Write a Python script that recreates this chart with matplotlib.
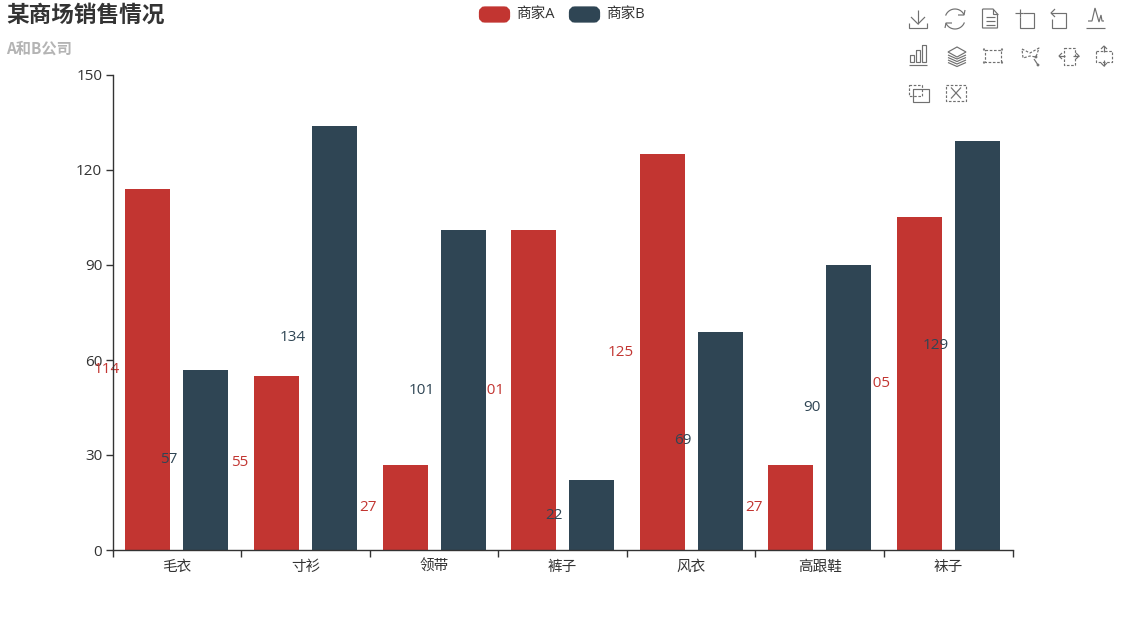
import matplotlib
matplotlib.use("Agg")
import matplotlib.pyplot as plt
from matplotlib.patches import FancyBboxPatch, Circle, Polygon
import numpy as np

FONTS = ["Open Sans", "Noto Sans CJK SC", "DejaVu Sans"]
plt.rcParams["font.family"] = FONTS

categories = ["毛衣", "寸衫", "领带", "裤子", "风衣", "高跟鞋", "袜子"]
seller_a = [114, 55, 27, 101, 125, 27, 105]
seller_b = [57, 134, 101, 22, 69, 90, 129]
y_ticks = [0, 30, 60, 90, 120, 150]

RED = "#c23531"
NAVY = "#2f4554"
TEXT = "#333333"
ICON = "#707070"

fig = plt.figure(figsize=(11.25, 6.25), dpi=100)
ax = fig.add_axes([112.6 / 1125, 75 / 625, 900 / 1125, 475 / 625])

x = np.arange(len(categories))
bar_w = 0.35
off = 0.2255

# bars and labels, B bars sit over the A labels like in the original
ax.bar(x - off, seller_a, bar_w, color=RED, zorder=2)
for xi, v in zip(x, seller_a):
    ax.annotate(str(v), (xi - off - bar_w / 2, v / 2), xytext=(-4.3, 0), textcoords="offset points",
                ha="right", va="center", color=RED, fontsize=11, zorder=3, annotation_clip=False)
ax.bar(x + off, seller_b, bar_w, color=NAVY, zorder=4)
for xi, v in zip(x, seller_b):
    ax.annotate(str(v), (xi + off - bar_w / 2, v / 2), xytext=(-4.3, 0), textcoords="offset points",
                ha="right", va="center", color=NAVY, fontsize=11, zorder=5, annotation_clip=False)

ax.set_xlim(-0.5, len(categories) - 0.5)
ax.set_ylim(0, 150)
ax.set_yticks(y_ticks)
ax.set_xticks(np.arange(len(categories) + 1) - 0.5)
ax.set_xticklabels([])
ax.set_xticks(x, minor=True)
ax.set_xticklabels(categories, minor=True, fontsize=10.5, color=TEXT)
ax.tick_params(axis="x", which="minor", length=0, pad=7)
ax.tick_params(axis="x", which="major", length=5, width=1, color=TEXT)
ax.tick_params(axis="y", length=5, width=1, color=TEXT, labelcolor=TEXT, labelsize=11, pad=2.5)
for side in ["top", "right"]:
    ax.spines[side].set_visible(False)
for side in ["left", "bottom"]:
    ax.spines[side].set_color(TEXT)
    ax.spines[side].set_linewidth(1)
    ax.spines[side].set_zorder(6)

# overlay in pixel coordinates for title, legend and toolbox
ov = fig.add_axes([0, 0, 1, 1], facecolor="none")
ov.set_xlim(0, 1125)
ov.set_ylim(625, 0)
ov.axis("off")

ov.text(6, 15, "某商场销售情况", fontsize=16.3, fontweight="bold", color=TEXT, va="center", ha="left",
        family="Noto Sans CJK SC")
ov.text(6, 48.5, "A和B公司", fontsize=11, fontweight="bold", color="#b4b4b4", va="center", ha="left",
        family="Noto Sans CJK SC")

for left, color, name in [(479, RED, "商家A"), (569, NAVY, "商家B")]:
    ov.add_patch(FancyBboxPatch((left + 3, 9.5), 25, 10, boxstyle="round,pad=0,rounding_size=3",
                                mutation_aspect=1, fc=color, ec=color, lw=4.5))
    ov.text(left + 37.5, 14, name, fontsize=10.5, color=TEXT, va="center", ha="left")


def pl(cx, cy, pts, ls="-", closed=False):
    pts = list(pts)
    if closed:
        pts.append(pts[0])
    ov.plot([cx + p[0] for p in pts], [cy + p[1] for p in pts], color=ICON, lw=0.85, ls=ls,
            solid_joinstyle="miter", solid_capstyle="butt")


DASH = (0, (2.2, 1.4))


def box(cx, cy, w, h, ls="-"):
    pl(cx, cy, [(-w / 2, -h / 2), (w / 2, -h / 2), (w / 2, h / 2), (-w / 2, h / 2)], ls=ls, closed=True)


def save_icon(c, r):
    pl(c, r, [(0, -9), (0, 5)])
    pl(c, r, [(-7, -2), (0, 5), (7, -2)])
    pl(c, r, [(-9, 4), (-9, 9), (9, 9), (9, 4)])


def refresh_icon(c, r):
    t = np.linspace(np.radians(200), np.radians(335), 20)
    pl(c, r, np.c_[10 * np.cos(t), 10 * np.sin(t)])
    t = np.linspace(np.radians(20), np.radians(155), 20)
    pl(c, r, np.c_[10 * np.cos(t), 10 * np.sin(t)])
    pl(c, r, [(3, -4), (9, -4), (10, -9)])
    pl(c, r, [(-3, 4), (-9, 4), (-10, 9)])


def doc_icon(c, r):
    pl(c, r, [(-7.5, -10), (3, -10), (7.5, -5), (7.5, 9), (-7.5, 9)], closed=True)
    pl(c, r, [(3, -10), (3, -5), (7.5, -5)])
    for dy in [-2, 2, 5.5]:
        pl(c, r, [(-4.5, dy), (4.5, dy)])


def zoom_icon(c, r):
    pl(c, r, [(-2, -6), (9, -6), (9, 9), (-5, 9), (-5, -2)])
    pl(c, r, [(-10, -6), (-2, -6)])
    pl(c, r, [(-5, -10), (-5, -2)])


def back_icon(c, r):
    pl(c, r, [(-9, -6), (6, -6), (6, 9), (-8, 9), (-8, 0)])
    pl(c, r, [(-5, -10), (-9, -6), (-5, -2)])


def line_icon(c, r):
    pl(c, r, [(-8, 2), (-4, 2), (-1, -11), (3, 3), (5, -4), (6, 2), (8, 2)])
    pl(c, r, [(-10, 9), (9, 9)])


def bar_icon(c, r):
    for dx, h in [(-6, 7), (0, 12), (6, 17)]:
        box(c + dx, r + 6 - h / 2, 3.5, h)
    pl(c, r, [(-9, 9), (9, 9)])


def stack_icon(c, r):
    ov.add_patch(Polygon([(c - 9, r - 4), (c, r - 9), (c + 9, r - 4), (c, r + 1)], closed=True,
                         fc="none", ec=ICON, lw=0.85))
    for dy in [0, 2.5, 5, 7.5]:
        pl(c, r, [(-9, dy - 1), (0, dy + 3), (9, dy - 1)])


def rect_select(c, r):
    box(c, r, 16, 12, ls=DASH)
    for sx, sy in [(-1, -1), (1, -1), (1, 1), (-1, 1)]:
        ov.add_patch(Circle((c + sx * 9, r + sy * 6.5), 0.8, fc=ICON, ec=ICON, lw=0.4))


def poly_select(c, r):
    pl(c, r, [(-9, -7), (-1, -3), (8, -8), (5, 1), (-1, 0), (-8, 2)], ls=DASH, closed=True)
    pl(c, r, [(3, 3), (7, 9)])
    ov.add_patch(Circle((c + 7, r + 9), 1.1, fc=ICON, ec=ICON, lw=0.4))
    ov.add_patch(Circle((c + 5, r + 1), 1.1, fc=ICON, ec=ICON, lw=0.4))


def lr_select(c, r):
    box(c, r, 11, 17, ls=DASH)
    pl(c, r, [(-7, -3), (-10, 0), (-7, 3)])
    pl(c, r, [(7, -3), (10, 0), (7, 3)])
    pl(c, r, [(-10, 0), (-4, 0)])
    pl(c, r, [(10, 0), (4, 0)])


def ud_select(c, r):
    box(c, r, 16, 11, ls=DASH)
    pl(c, r, [(-3, -7), (0, -10), (3, -7)])
    pl(c, r, [(-3, 7), (0, 10), (3, 7)])
    pl(c, r, [(0, -10), (0, -4)])
    pl(c, r, [(0, 10), (0, 4)])


def keep_icon(c, r):
    box(c - 2.5, r - 3, 13, 11, ls=DASH)
    pl(c, r, [(-5, -4), (11, -4), (11, 9), (-5, 9)], closed=True)


def clear_icon(c, r):
    box(c, r, 20, 16, ls=DASH)
    pl(c, r, [(-5, -5.5), (5, 5.5)])
    pl(c, r, [(5, -5.5), (-5, 5.5)])


rows = [
    (19, [(918, save_icon), (955, refresh_icon), (990, doc_icon), (1025, zoom_icon), (1060, back_icon), (1096, line_icon)]),
    (56, [(918, bar_icon), (957, stack_icon), (993, rect_select), (1031, poly_select), (1069, lr_select), (1104, ud_select)]),
    (93, [(918, keep_icon), (956, clear_icon)]),
]
for r, icons in rows:
    for c, fn in icons:
        fn(c, r)

ov.set_xlim(0, 1125)
ov.set_ylim(625, 0)

plt.savefig("out.png", dpi=100)
plt.close()
